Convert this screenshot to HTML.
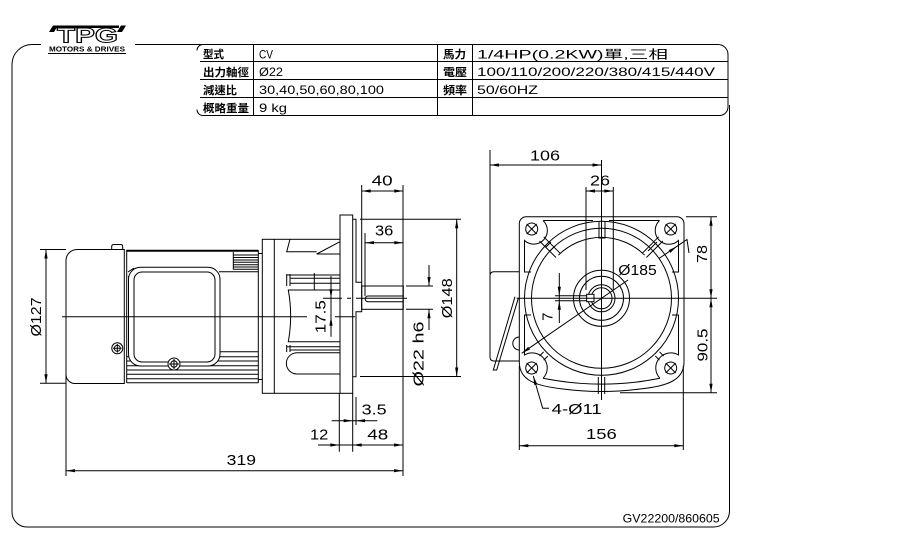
<!DOCTYPE html>
<html><head><meta charset="utf-8"><style>
html,body{margin:0;padding:0;background:#fff;}
svg{display:block;}
text{font-family:"Liberation Sans","Noto Sans CJK TC",sans-serif;fill:#000;}
.d{font-size:14.5px;}
.t{font-size:12px;}
.c{font-size:11px;font-weight:bold;}
</style></head><body>
<svg width="919" height="547" viewBox="0 0 919 547" xmlns="http://www.w3.org/2000/svg">
<rect width="919" height="547" fill="#fff"/>
<g fill="none" stroke="#000" stroke-width="1">
<!-- frame -->
<path d="M12,512 V64 A20,20 0 0 1 32,44.5 H41"/>
<path d="M135,44.5 H718 A10,10 0 0 1 728,54.5 V107 A8.5,8.5 0 0 1 719.5,115.5 H203 A6,6 0 0 1 197,109.5"/>
<path d="M197,50.5 A6,6 0 0 1 203,44.5"/>
<path d="M729.5,105 V511 A16,16 0 0 1 713.5,527 H27 A15,15 0 0 1 12,512"/>
<path d="M200,61.5 H728 M200,79.5 H728 M200,97.5 H728 M253.5,44.5 V115.5 M437.5,44.5 V115.5 M472.5,44.5 V115.5"/>
<line x1="48" y1="53.5" x2="126" y2="53.5"/>

<!-- SIDE VIEW -->
<path d="M124.3,249.5 H77 A11,11 0 0 0 66,260.5 V374.5 A9,9 0 0 0 75,383.5 H124.3 Z"/>
<line x1="66" y1="374" x2="66" y2="476"/>
<path d="M111.7,249.5 V246.5 Q111.7,244.5 114,244.5 H120.5 Q122.7,244.5 122.7,246.5 V249.5"/>
<line x1="126.5" y1="250.8" x2="258.3" y2="250.8" stroke-width="2"/>
<path d="M126.7,250 V383 M258.3,250 V383 M126.7,382.7 H258.3"/>
<path d="M233.3,252 V269.5 M233.3,255 H258.3 M233.3,257.5 H258.3 M233.3,260 H258.3 M233.3,262.3 H258.3 M233.3,264.7 H258.3 M233.3,267 H258.3 M233.3,269.3 H258.3"/>
<path d="M219,271.7 H258.3 M219,351.7 H258.3"/>
<path d="M126.7,356.7 H258.3 M126.7,361 H258.3 M126.7,365.7 H258.3 M126.7,370 H258.3 M126.7,374.3 H258.3 M126.7,378.7 H258.3"/>
<path d="M128,272 L134,268 M128,277 L137,270"/>
<rect x="128.5" y="267.3" width="91.5" height="98.7" rx="12" fill="#fff"/>
<rect x="134" y="272" width="81" height="90" rx="8"/>
<circle cx="117.3" cy="348.3" r="5.5" fill="#fff"/>
<circle cx="117.3" cy="348.3" r="3"/>
<path d="M113,348.3 H121.6 M117.3,344 V352.6"/>
<circle cx="174" cy="364" r="6" fill="#fff"/>
<circle cx="174" cy="364" r="3.2"/>
<path d="M169,364 H179 M174,359 V369"/>
<path d="M258.3,253.5 H262.3 M258.3,379.5 H262.3"/>
<!-- gear head -->
<rect x="262.3" y="239.3" width="77.7" height="154"/>
<line x1="274.3" y1="239.3" x2="274.3" y2="393.3"/>
<path d="M290,239.3 L286.7,251.7 H316.7 M340,241.7 L316.7,254 H340"/>
<path d="M286.7,275 H340 M290,278.3 H340 M290,283.3 H340 M286.7,274 V286 M290,274 V286 M314.3,273 V290"/>
<path d="M340,290 H288.3 Q293,316 288.3,341.7 H340"/>
<path d="M286.7,346.7 H340 M290,350 H340 M286.7,345 V352 M290,345 V352"/>
<path d="M340,352.7 H297 A10.65,10.65 0 0 0 297,374 H340"/>
<!-- flange & shaft -->
<rect x="340" y="215" width="12.7" height="178.3"/>
<path d="M352.7,219.3 H356 V282.3 H361.7 V311.7 H356 V376.7 H352.7"/>
<rect x="361.7" y="286" width="41.6" height="23.3"/>
<path d="M403.3,296 H368 A2.85,2.85 0 0 0 368,301.7 H403.3"/>
<!-- centerlines -->
<path d="M62,316.7 H307 M335,316.7 H355"/>
<path d="M323,298.3 H342 M347,298.3 H351 M356,298.3 H407"/>
<!-- dims side -->
<path d="M40,249.5 H66 M40,383.3 H66 M46,249.5 V383.3"/>
<path d="M66,470.7 H403 M403,185 V476"/>
<path d="M339.3,393 V451.7 M352.7,393 V451.7 M318,445 H403"/>
<path d="M356,397 V425 M331.7,420.7 H377.3"/>
<path d="M361.7,185 V282.3 M361.7,191 H403.3"/>
<path d="M365,233 V296 M365,242.7 H403.3"/>
<path d="M360,219.3 H461 M360,376.5 H461 M456.7,219.3 V376.5"/>
<path d="M406,286 H433 M406,309.3 H433 M429,265 V286 M429,309.3 V330"/>
<path d="M331,276 V336.7"/>

<!-- FRONT VIEW -->
<path d="M490,150 V357 Q490,361 494,361 H519.3 M490,275.5 Q490,271.7 494,271.7 H519.3"/>
<path d="M515,296.7 L493.3,370 H496.7 L518.3,298.3"/>
<path d="M519.3,337 A6.5,6.5 0 0 0 519.3,350"/>
<path d="M527,216.7 H677 A7,7 0 0 1 684,223.7 V362 C684,380 668,386 640,389 Q601.7,394 563,389 C535,386 519.3,380 519.3,362 V223.7 A7,7 0 0 1 526.3,216.7 Z"/>
<path d="M543,378.3 Q601.7,390 660,378.3"/>
<path d="M598.3,377 V394 M604.7,377 V394 M599,222 V238 H605 V222"/>
<circle cx="601.5" cy="298.3" r="77"/>
<circle cx="601.5" cy="298.3" r="70"/>
<path d="M558.4,255.2 A61,61 0 0 1 644.6,255.2"/>
<circle cx="601.5" cy="298.3" r="28"/>
<circle cx="601.5" cy="298.3" r="22"/>
<circle cx="601.5" cy="298.3" r="13.5"/>
<circle cx="601.5" cy="298.3" r="10.5"/>
<rect x="586.7" y="294.3" width="7.3" height="7.4" fill="#fff"/>
<!-- pockets -->
<path d="M543.5,220.5 H593 M609,220.5 H659.5"/>
<path d="M543,220.5 A13.5,13.5 0 0 1 524.5,240.5 V272 H531"/>
<path d="M659.5,220.5 A13.5,13.5 0 0 0 678.5,240.5 V272 H672"/>
<path d="M531,315 H524.5 V355 A15,15 0 0 1 543,378.3"/>
<path d="M672,315 H678.5 V355 A15,15 0 0 0 660,378.3"/>
<!-- holes -->
<circle cx="531.7" cy="229" r="6"/><path d="M526.7,224 L536.7,234 M526.7,234 L536.7,224"/>
<circle cx="670.7" cy="229" r="6"/><path d="M665.7,224 L675.7,234 M665.7,234 L675.7,224"/>
<circle cx="531.7" cy="368" r="6"/><path d="M526.7,363 L536.7,373 M526.7,373 L536.7,363"/>
<circle cx="670.7" cy="368" r="6"/><path d="M665.7,363 L675.7,373 M665.7,373 L675.7,363"/>
<!-- ribs -->
<path d="M543.7,236.8 L560.2,253.3 M539.5,241 L556,257.5 M546,247 L551,242 M550,251 L555,246"/>
<path d="M662.9,241 L646.4,257.5 M658.7,236.8 L642.2,253.3 M657,242 L652,247 M653,246 L648,251"/>
<path d="M543.7,360.2 L547.9,356 M539.5,356 L543.7,351.8"/>
<path d="M659.5,360.2 L655.3,356 M663.7,356 L659.5,351.8"/>
<!-- centerlines -->
<path d="M601.5,160 V400 M516.7,298.3 H717"/>
<!-- dims front -->
<path d="M490,165 H601.5"/>
<path d="M586,187 V290 M613.3,187 V290 M586,191 H613.3"/>
<path d="M686,216.7 H717 M620,392.7 H717 M711,216.7 V392.7"/>
<path d="M519.3,366 V450 M683.3,366 V450 M519.3,445.7 H683.3"/>
<path d="M559.3,273 V323 M555,295.7 H587 M555,300.7 H587"/>
<path d="M521.7,353.3 L628,280 M659,258.5 L677,246.3 L687,239.5 L689,253"/>
<path d="M533.3,376 L542.7,408.3 H549"/>
</g>

<g fill="#000" stroke="none">
<polygon points="46,249.5 44.4,258.5 47.6,258.5"/><polygon points="46,383.3 44.4,374.3 47.6,374.3"/>
<polygon points="66,470.7 75,469.1 75,472.3"/><polygon points="403,470.7 394,469.1 394,472.3"/>
<polygon points="339.3,445 330.3,443.4 330.3,446.6"/><polygon points="352.7,445 361.7,443.4 361.7,446.6"/><polygon points="403,445 394,443.4 394,446.6"/>
<polygon points="352.7,420.7 343.7,419.1 343.7,422.3"/><polygon points="356,420.7 365,419.1 365,422.3"/>
<polygon points="361.7,191 370.7,189.4 370.7,192.6"/><polygon points="403.3,191 394.3,189.4 394.3,192.6"/>
<polygon points="365,242.7 374,241.1 374,244.3"/><polygon points="403.3,242.7 394.3,241.1 394.3,244.3"/>
<polygon points="456.7,219.3 455.1,228.3 458.3,228.3"/><polygon points="456.7,376.5 455.1,367.5 458.3,367.5"/>
<polygon points="429,286 427.4,277 430.6,277"/><polygon points="429,309.3 427.4,318.3 430.6,318.3"/>
<polygon points="331,298.3 329.4,289.3 332.6,289.3"/><polygon points="331,316.7 329.4,325.7 332.6,325.7"/>
<polygon points="490,165 499,163.4 499,166.6"/><polygon points="601.5,165 592.5,163.4 592.5,166.6"/>
<polygon points="586,191 595,189.4 595,192.6"/><polygon points="613.3,191 604.3,189.4 604.3,192.6"/>
<polygon points="711,216.7 709.4,225.7 712.6,225.7"/><polygon points="711,298.3 709.4,289.3 712.6,289.3"/>
<polygon points="711,298.3 709.4,307.3 712.6,307.3"/><polygon points="711,392.7 709.4,383.7 712.6,383.7"/>
<polygon points="519.3,445.7 528.3,444.1 528.3,447.3"/><polygon points="683.3,445.7 674.3,444.1 674.3,447.3"/>
<polygon points="559.3,295.7 557.7,286.7 560.9,286.7"/><polygon points="559.3,300.7 557.7,309.7 560.9,309.7"/>
<polygon points="521.7,353.3 530,349.5 528.2,346.9"/><polygon points="677,246.3 670.5,252.7 668.7,250.1"/>
<polygon points="533.3,376 537.3,384.2 534.3,385"/>
<!-- logo -->
<polygon points="49,32 53,25.5 58,25.5 54,32"/>
<rect x="56" y="25.5" width="63" height="2.5"/>
<polygon points="117,32 121,25.5 126,25.5 122,32"/>
</g>

<!-- logo text -->
<text x="57" y="42.5" font-size="21" font-weight="bold" textLength="61" lengthAdjust="spacingAndGlyphs" style="fill:#fff" stroke="#000" stroke-width="1">TPG</text>
<text x="49" y="51.5" font-size="7" font-weight="bold" textLength="76" lengthAdjust="spacingAndGlyphs">MOTORS &amp; DRIVES</text>

<!-- table text -->
<text class="c" x="203" y="58" textLength="21" lengthAdjust="spacingAndGlyphs">型式</text>
<text class="c" x="203" y="76" textLength="46" lengthAdjust="spacingAndGlyphs">出力軸徑</text>
<text class="c" x="203" y="94" textLength="34" lengthAdjust="spacingAndGlyphs">減速比</text>
<text class="c" x="203" y="112" textLength="46" lengthAdjust="spacingAndGlyphs">概略重量</text>
<text class="t" x="259" y="58.5" textLength="14" lengthAdjust="spacingAndGlyphs">CV</text>
<text class="t" x="259" y="76" textLength="24" lengthAdjust="spacingAndGlyphs">Ø22</text>
<text class="t" x="259" y="94" textLength="125" lengthAdjust="spacingAndGlyphs">30,40,50,60,80,100</text>
<text class="t" x="259" y="112" textLength="28" lengthAdjust="spacingAndGlyphs">9 kg</text>
<text class="c" x="443" y="58" textLength="23" lengthAdjust="spacingAndGlyphs">馬力</text>
<text class="c" x="443" y="76" textLength="24" lengthAdjust="spacingAndGlyphs">電壓</text>
<text class="c" x="443" y="94" textLength="24" lengthAdjust="spacingAndGlyphs">頻率</text>
<text class="t" x="477" y="58.5" textLength="191" lengthAdjust="spacingAndGlyphs">1/4HP(0.2KW)單,三相</text>
<text class="t" x="477" y="76" textLength="238" lengthAdjust="spacingAndGlyphs">100/110/200/220/380/415/440V</text>
<text class="t" x="477" y="94" textLength="61" lengthAdjust="spacingAndGlyphs">50/60HZ</text>

<!-- dimension text -->
<text class="d" x="371.7" y="185.7" textLength="21" lengthAdjust="spacingAndGlyphs">40</text>
<text class="d" x="375" y="235.7" textLength="18.3" lengthAdjust="spacingAndGlyphs">36</text>
<text class="d" x="530" y="160.5" textLength="30" lengthAdjust="spacingAndGlyphs">106</text>
<text class="d" x="590" y="185.7" textLength="20" lengthAdjust="spacingAndGlyphs">26</text>
<text class="d" x="618.3" y="275" textLength="38.4" lengthAdjust="spacingAndGlyphs">Ø185</text>
<text class="d" x="551.7" y="414" textLength="50" lengthAdjust="spacingAndGlyphs">4-Ø11</text>
<text class="d" x="586" y="439" textLength="30.7" lengthAdjust="spacingAndGlyphs">156</text>
<text class="d" x="226.7" y="465" textLength="29.3" lengthAdjust="spacingAndGlyphs">319</text>
<text class="d" x="310" y="439.3" textLength="18.3" lengthAdjust="spacingAndGlyphs">12</text>
<text class="d" x="367.3" y="439.3" textLength="21" lengthAdjust="spacingAndGlyphs">48</text>
<text class="d" x="361.7" y="414.3" textLength="25" lengthAdjust="spacingAndGlyphs">3.5</text>
<text class="d" text-anchor="middle" transform="translate(41,317) rotate(-90)" textLength="39" lengthAdjust="spacingAndGlyphs">Ø127</text>
<text class="d" text-anchor="middle" transform="translate(325.3,316.7) rotate(-90)" textLength="33" lengthAdjust="spacingAndGlyphs">17.5</text>
<text class="d" text-anchor="middle" transform="translate(452,298.3) rotate(-90)" textLength="40" lengthAdjust="spacingAndGlyphs">Ø148</text>
<text class="d" text-anchor="middle" transform="translate(423.5,354) rotate(-90)" textLength="65" lengthAdjust="spacingAndGlyphs">Ø22 h6</text>
<text class="d" text-anchor="middle" transform="translate(707,254) rotate(-90)" textLength="18" lengthAdjust="spacingAndGlyphs">78</text>
<text class="d" text-anchor="middle" transform="translate(707.5,345) rotate(-90)" textLength="33" lengthAdjust="spacingAndGlyphs">90.5</text>
<text class="d" text-anchor="middle" transform="translate(552.5,316.7) rotate(-90)">7</text>
<text x="622.7" y="522.5" font-size="12" textLength="97" lengthAdjust="spacingAndGlyphs">GV22200/860605</text>
</svg>
</body></html>
